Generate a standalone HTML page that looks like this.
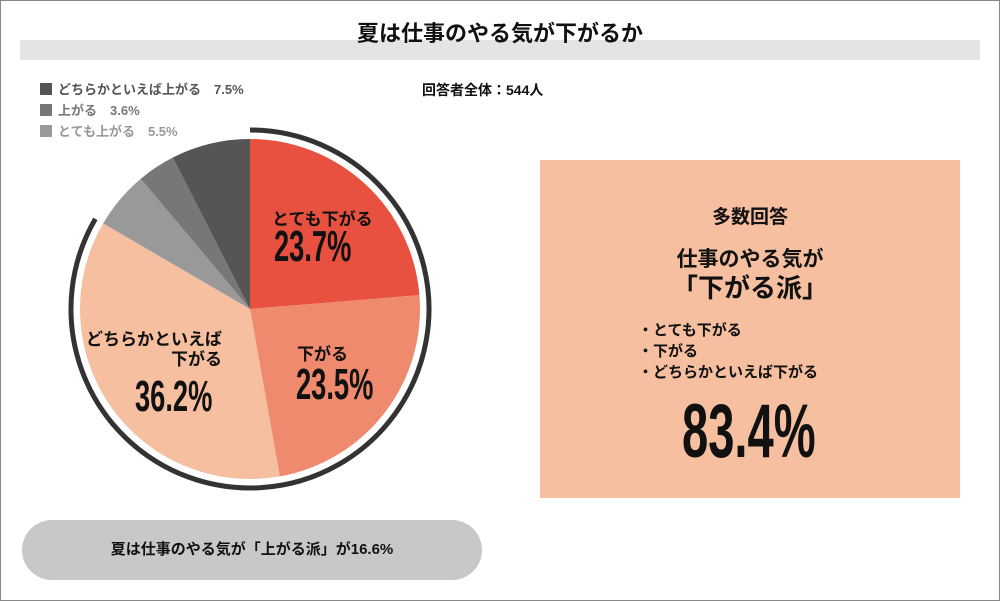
<!DOCTYPE html>
<html><head><meta charset="utf-8"><style>
body{margin:0;width:1000px;height:601px;overflow:hidden;background:#fff;font-family:"Liberation Sans","Noto Sans CJK JP",sans-serif;}
.frame{position:absolute;left:0;top:0;width:998px;height:599px;border:1px solid #888;}
.abs{position:absolute;}
.big{font-weight:bold;display:inline-block;transform:scaleX(0.62);transform-origin:left center;color:#111;}
</style></head><body>
<div class="frame"></div>
<div class="abs" style="left:20px;top:40px;width:960px;height:20px;background:#e4e4e4"></div>
<div class="abs" style="left:0;top:16px;width:1000px;text-align:center;font-size:22px;font-weight:bold;color:#111">夏は仕事のやる気が下がるか</div>
<div class="abs" style="left:422px;top:80px;font-size:14px;font-weight:bold;color:#111">回答者全体：544人</div>
<div class="abs" style="left:40px;top:79px;font-size:13px;font-weight:bold;line-height:21px">
 <div style="color:#555"><span style="display:inline-block;width:12px;height:12px;background:#555;vertical-align:-1px;margin-right:6px"></span>どちらかといえば上がる　7.5%</div>
 <div style="color:#777"><span style="display:inline-block;width:12px;height:12px;background:#777;vertical-align:-1px;margin-right:6px"></span>上がる　3.6%</div>
 <div style="color:#999"><span style="display:inline-block;width:12px;height:12px;background:#999;vertical-align:-1px;margin-right:6px"></span>とても上がる　5.5%</div>
</div>
<svg class="abs" style="left:0;top:0" width="1000" height="601" id="pie"></svg>
<div class="abs" style="left:272px;top:205px;font-size:17px;font-weight:bold;color:#111">とても下がる</div>
<div class="abs big" style="left:274px;top:222px;font-size:44px">23.7%</div>
<div class="abs" style="left:297px;top:340px;font-size:17px;font-weight:bold;color:#111">下がる</div>
<div class="abs big" style="left:296px;top:360px;font-size:44px">23.5%</div>
<div class="abs" style="left:62px;top:330px;width:160px;text-align:right;font-size:17px;font-weight:bold;color:#111;line-height:20px">どちらかといえば<br>下がる</div>
<div class="abs big" style="left:135px;top:372px;font-size:44px">36.2%</div>
<div class="abs" style="left:540px;top:160px;width:420px;height:338px;background:#f5bfa0;color:#111;font-weight:bold">
 <div style="position:absolute;top:42px;width:100%;text-align:center;font-size:19px">多数回答</div>
 <div style="position:absolute;top:86px;width:100%;text-align:center;font-size:21px;line-height:28px">仕事のやる気が<br><span style="font-size:26px">「下がる派」</span></div>
 <div style="position:absolute;top:160px;left:98px;font-size:15px;line-height:21px">・とても下がる<br>・下がる<br>・どちらかといえば下がる</div>
 <div style="position:absolute;top:228px;left:142px"><span class="big" style="font-size:76px">83.4%</span></div>
</div>
<div class="abs" style="left:22px;top:520px;width:460px;height:60px;border-radius:30px;background:#c8c8c8;text-align:center;line-height:60px;font-size:15px;font-weight:bold;color:#111">夏は仕事のやる気が「上がる派」が16.6%</div>
<script>
const categories=["とても下がる","下がる","どちらかといえば下がる","とても上がる","上がる","どちらかといえば上がる"];
const values=[23.7,23.5,36.2,5.5,3.6,7.5];
const colors=["#e85140","#ef8a6e","#f5bfa0","#999999","#777777","#555555"];
const downShare=[83.4];
const svg=document.getElementById('pie');
const cx=250,cy=309,r=170,ns="http://www.w3.org/2000/svg";
const total=values.reduce((a,b)=>a+b,0);
function pt(frac,rad){const a=frac*2*Math.PI-Math.PI/2;return [cx+rad*Math.cos(a),cy+rad*Math.sin(a)];}
let acc=0;
values.forEach((v,i)=>{
 const s=acc/total,e=(acc+v)/total;acc+=v;
 const p0=pt(s,r),p1=pt(e,r);
 const p=document.createElementNS(ns,'path');
 p.setAttribute('d',`M${cx},${cy}L${p0[0]},${p0[1]}A${r},${r} 0 ${e-s>0.5?1:0} 1 ${p1[0]},${p1[1]}Z`);
 p.setAttribute('fill',colors[i]);
 
 
 svg.appendChild(p);
});
const f=downShare[0]/100,R=179,a0=pt(0,R),a1=pt(f,R);
const arc=document.createElementNS(ns,'path');
arc.setAttribute('d',`M${a0[0]},${a0[1]}A${R},${R} 0 ${f>0.5?1:0} 1 ${a1[0]},${a1[1]}`);
arc.setAttribute('fill','none');arc.setAttribute('stroke','#333');arc.setAttribute('stroke-width','5');


svg.appendChild(arc);
</script>
</body></html>
